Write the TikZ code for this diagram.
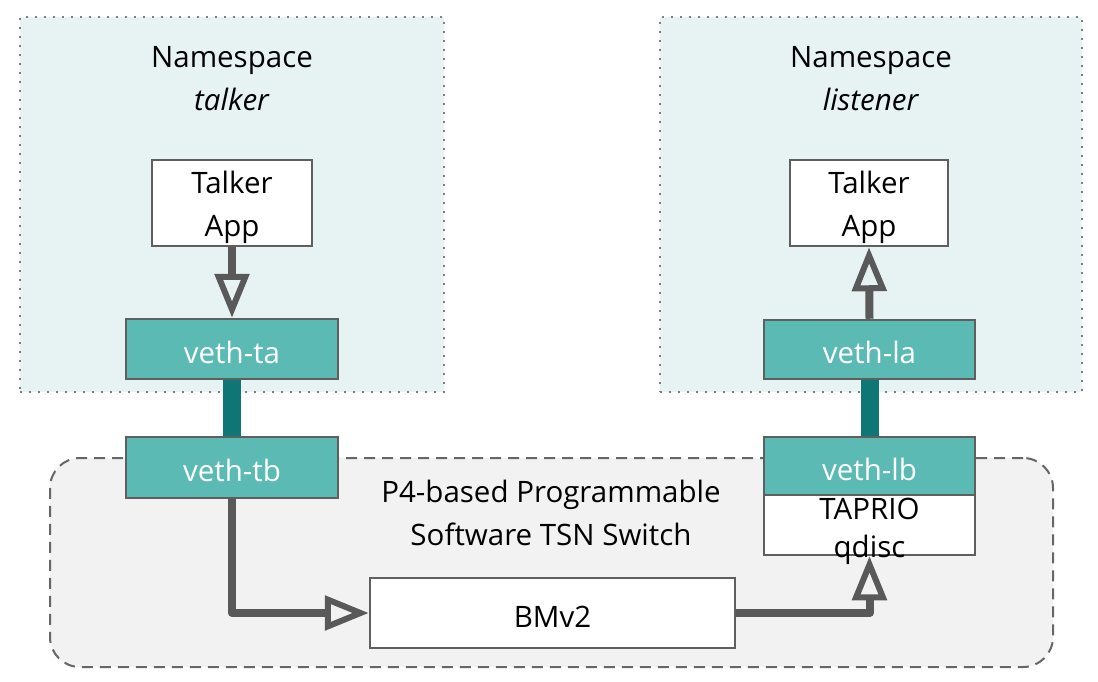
\documentclass[tikz,border=0pt]{standalone}
\usepackage{fontspec}
\setmainfont{Open Sans}
\usetikzlibrary{arrows.meta}
\definecolor{nsfill}{HTML}{E6F3F2}
\definecolor{nsline}{HTML}{7F7F7F}
\definecolor{vethfill}{HTML}{5BBBB4}
\definecolor{boxline}{HTML}{5F5F5F}
\definecolor{teal2}{HTML}{0E7775}
\definecolor{arrgray}{HTML}{595959}
\definecolor{swfill}{HTML}{F2F2F2}
\definecolor{swline}{HTML}{666666}
\tikzset{
  nsbox/.style={draw=nsline, fill=nsfill, line width=2pt, dash pattern=on 2pt off 7pt, inner sep=0pt},
  swbox/.style={draw=swline, fill=swfill, line width=2pt, dash pattern=on 11pt off 7pt, rounded corners=30pt, inner sep=0pt},
  lbl/.style={inner sep=0pt, align=center, font=\fontsize{29.5}{43}\selectfont},
  appbox/.style={draw=boxline, fill=white, line width=2.5pt, inner sep=0pt,
    label={[lbl, yshift=-4pt]center:{#1}}},
  vethbox/.style={draw=boxline, fill=vethfill, line width=2.5pt, inner sep=0pt,
    label={[lbl, text=white, yshift=-3pt]center:{#1}}},
  link/.style={draw=teal2, line width=18pt},
  flow/.style={draw=arrgray, line width=8pt, line join=round,
    -{Triangle[open, length=44pt, width=34pt, line width=6pt]}},
}
\begin{document}
\begin{tikzpicture}[x=1pt, y=-1pt]
\useasboundingbox (0,0) rectangle (1098,682);
% namespace regions
\node[nsbox, minimum width=424pt, minimum height=375pt] (nsT) at (232,204.5) {};
\node[nsbox, minimum width=422pt, minimum height=375pt] (nsL) at (871,204.5) {};
\node[lbl] (nsTlbl) at (232,79) {Namespace\\\textit{talker}};
\node[lbl] (nsLlbl) at (871,79) {Namespace\\\textit{listener}};
% switch region
\node[swbox, minimum width=1003pt, minimum height=209pt] (sw) at (551.5,562.5) {};
\node[lbl] (swlbl) at (551,513) {P4-based Programmable\\Software TSN Switch};
% boxes
\node[appbox={Talker\\App}, minimum width=160pt, minimum height=86pt] (appT) at (232,203) {};
\node[appbox={Talker\\App}, minimum width=158pt, minimum height=86pt] (appL) at (869,203) {};
\node[vethbox={veth-ta}, minimum width=212pt, minimum height=60pt] (vta) at (232,349) {};
\node[vethbox={veth-la}, minimum width=211pt, minimum height=59pt] (vla) at (869.5,349.5) {};
\node[appbox={}, minimum width=211pt, minimum height=60pt] (tap) at (869.5,525) {};
\node[appbox={BMv2}, minimum width=365pt, minimum height=70pt] (bmv) at (552.5,613) {};
% links
\draw[link] (vta.south) -- (232,437);
\draw[link] (vla.south) -- (869.5,437);
\node[vethbox={veth-tb}, minimum width=212pt, minimum height=61pt] (vtb) at (232,467.5) {};
\node[vethbox={veth-lb}, minimum width=211pt, minimum height=58pt] (vlb) at (869.5,466) {};
\node[lbl, font=\fontsize{29.5}{38}\selectfont] (taptxt) at (869.5,531) {TAPRIO\\qdisc};
% flows
\draw[flow] (appT.south) -- (vta.north);
\draw[flow] (vla.north) -- (appL.south);
\draw[flow] (vtb.south) |- (bmv.west);
\draw[flow] (bmv.east) -| (tap.south);
\end{tikzpicture}
\end{document}
